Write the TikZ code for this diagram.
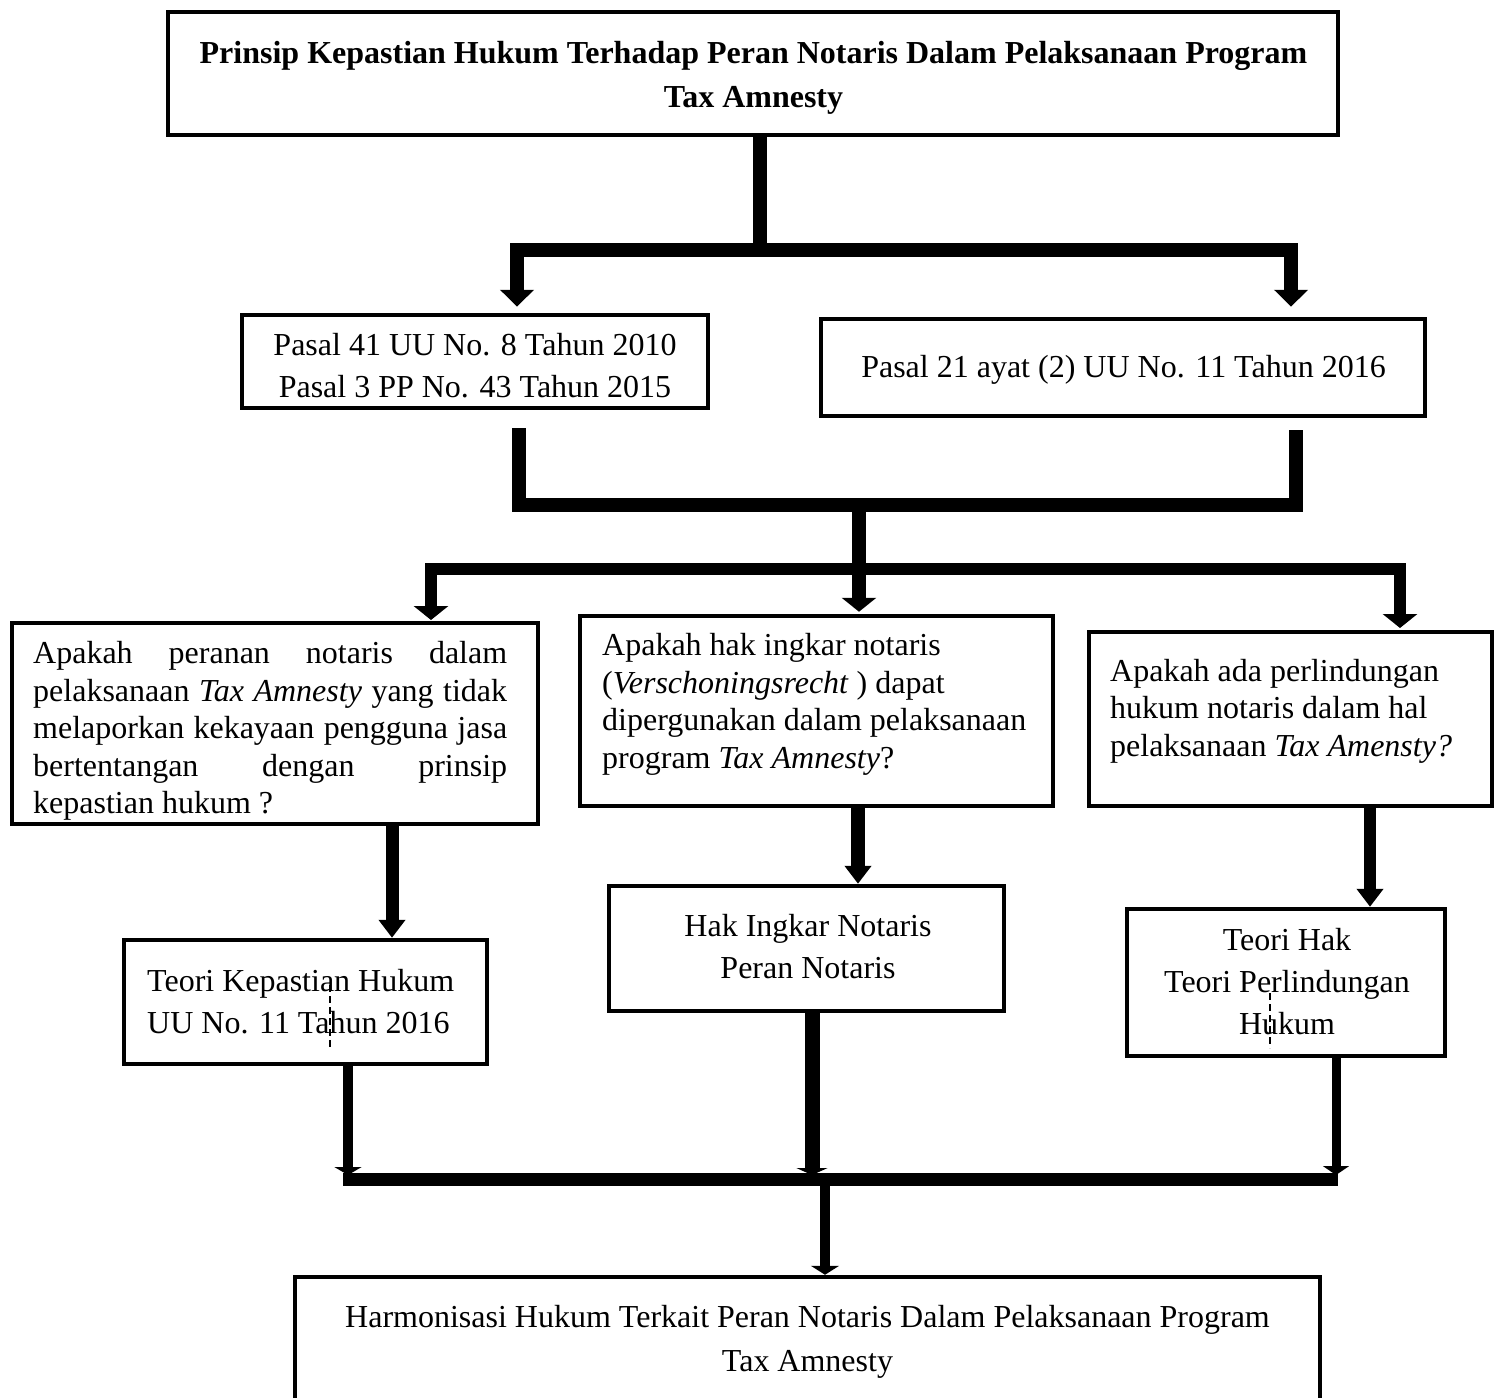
\documentclass[tikz,border=0pt]{standalone}
\usepackage{fontspec}
\setmainfont{Liberation Serif}
\usetikzlibrary{arrows.meta}
\tikzset{
  box/.style={draw=black, line width=4.5pt, inner sep=0pt},
  txt/.style={inner sep=0pt, font=\fontsize{32}{42}\selectfont},
  qtxt/.style={inner sep=0pt, font=\fontsize{32}{37.5}\selectfont, align=left},
  link/.style={draw=black, line width=#1},
  headA/.tip={Triangle[width=33pt,length=17pt]},
  headB/.tip={Triangle[width=34pt,length=14pt]},
  headC/.tip={Triangle[width=26pt,length=18pt]},
}
\begin{document}
\begin{tikzpicture}[x=1pt,y=-1pt]
\useasboundingbox (0,0) rectangle (1496,1397);
\fill[white] (0,0) rectangle (1496,1397);
\clip (0,0) rectangle (1496,1397);

% boxes
\node[box, minimum width=1170pt, minimum height=123pt] (title) at (753,73.5) {};
\node[box, minimum width=466pt, minimum height=93pt] (b1) at (475,361.5) {};
\node[box, minimum width=604pt, minimum height=97pt] (b2) at (1123,367.5) {};
\node[box, minimum width=526pt, minimum height=201pt] (q1) at (275,723.5) {};
\node[box, minimum width=473pt, minimum height=190pt] (q2) at (816.5,711) {};
\node[box, minimum width=403pt, minimum height=174pt] (q3) at (1290.5,719) {};
\node[box, minimum width=363pt, minimum height=124pt] (t1) at (305.5,1002) {};
\node[box, minimum width=395pt, minimum height=125pt] (t2) at (806.5,948.5) {};
\node[box, minimum width=318pt, minimum height=147pt] (t3) at (1286,982.5) {};
\node[box, minimum width=1025pt, minimum height=173pt] (bot) at (807.5,1363.5) {};

% texts
\node[txt, align=center, font=\fontsize{32}{44}\selectfont\bfseries] (titletxt) at (753.5,77.5)
  {Prinsip Kepastian Hukum Terhadap Peran Notaris Dalam Pelaksanaan Program\\Tax Amnesty};
\node[txt, align=center] (b1txt) at (475,366) {Pasal 41 UU No. 8 Tahun 2010\\Pasal 3 PP No. 43 Tahun 2015};
\node[txt] (b2txt) at (1123.5,370) {Pasal 21 ayat (2) UU No. 11 Tahun 2016};
\node[qtxt, anchor=west] (q1txt) at (33,731)
  {\makebox[474pt][s]{Apakah peranan notaris dalam}\\
   \makebox[474pt][s]{pelaksanaan \textit{Tax Amnesty} yang tidak}\\
   \makebox[474pt][s]{melaporkan kekayaan pengguna jasa}\\
   \makebox[474pt][s]{bertentangan dengan prinsip}\\
   kepastian hukum ?};
\node[qtxt, anchor=west] (q2txt) at (602,704.5)
  {Apakah hak ingkar notaris\\(\textit{Verschoningsrecht} ) dapat\\dipergunakan dalam pelaksanaan\\program \textit{Tax Amnesty}?};
\node[qtxt, anchor=west] (q3txt) at (1110,711)
  {Apakah ada perlindungan\\hukum notaris dalam hal\\pelaksanaan \textit{Tax Amensty?}};
\node[txt, align=left, anchor=west] (t1txt) at (147,1001.5) {Teori Kepastian Hukum\\UU No. 11 Tahun 2016};
\node[txt, align=center] (t2txt) at (808,946.5) {Hak Ingkar Notaris\\Peran Notaris};
\node[txt, align=center] (t3txt) at (1287,981.5) {Teori Hak\\Teori Perlindungan\\Hukum};
\node[txt, align=center, font=\fontsize{32}{44}\selectfont] (bottxt) at (807.5,1341.5)
  {Harmonisasi Hukum Terkait Peran Notaris Dalam Pelaksanaan Program\\Tax Amnesty};

% small dashed marks
\draw[line width=1.5pt, dash pattern=on 7pt off 4pt] (330,985) -- (330,1048);
\draw[line width=1.5pt, dash pattern=on 7pt off 4pt] (1270,993) -- (1270,1048);

% connectors: title -> b1, b2
\coordinate (s1) at (760,250);
\coordinate (s1l) at (517,250);
\coordinate (s1r) at (1291,250);
\draw[link=14pt] (s1 |- title.south) -- (s1);
\draw[link=14pt, headA-headA, shorten <=6pt, shorten >=10pt]
  (s1l |- b1.north) -- (s1l) -- (s1r) -- (s1r |- b2.north);

% b1, b2 -> q1, q2, q3
\coordinate (m1l) at (519,505);
\coordinate (m1r) at (1296,505);
\coordinate (m1) at (859,505);
\draw[link=14pt, shorten <=17.75pt, shorten >=11.75pt]
  (m1l |- b1.south) -- (m1l) -- (m1r) -- (m1r |- b2.south);
\draw[link=14pt, -headB, shorten >=2pt] (m1) -- (m1 |- q2.north);
\coordinate (s2l) at (431,569);
\coordinate (s2r) at (1400,569);
\draw[link=12pt, headB-headB, shorten <=0.75pt, shorten >=1.75pt]
  (s2l |- q1.north) -- (s2l) -- (s2r) -- (s2r |- q3.north);

% questions -> theories
\coordinate (c1) at (392,880);
\coordinate (c2) at (858,850);
\coordinate (c3) at (1370,850);
\draw[link=13pt, -headC] (c1 |- q1.south) -- (c1 |- t1.north);
\draw[link=14pt, -headC] (c2 |- q2.south) -- (c2 |- t2.north);
\draw[link=12pt, -headC] (c3 |- q3.south) -- (c3 |- t3.north);

% theories -> bottom
\coordinate (e1) at (348,1175);
\coordinate (e2) at (812,1175);
\coordinate (e3) at (1336,1175);
\draw[link=10pt, -{Triangle[width=27pt,length=8pt]}] (e1 |- t1.south) -- (e1);
\draw[link=15pt, -{Triangle[width=31pt,length=7pt]}] (e2 |- t2.south) -- (e2);
\draw[link=9pt, -{Triangle[width=26pt,length=9pt]}] (e3 |- t3.south) -- (e3);
\coordinate (h3l) at (343,1179);
\coordinate (h3r) at (1338,1179);
\draw[link=13pt] (h3l) -- (h3r);
\coordinate (d1) at (825,1185);
\draw[link=10pt, -{Triangle[width=28pt,length=9pt]}] (d1) -- (d1 |- bot.north);
\end{tikzpicture}
\end{document}
